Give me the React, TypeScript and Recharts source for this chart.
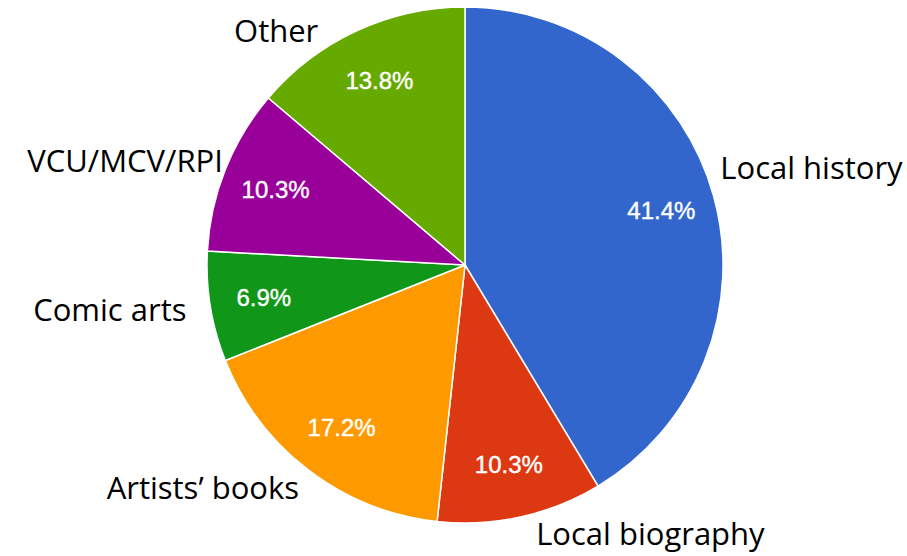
import { PieChart, Pie, Cell } from 'recharts';

// Collection categories, clockwise from 12 o'clock
const categories = ['Local history', 'Local biography', 'Artists\u2019 books', 'Comic arts', 'VCU/MCV/RPI', 'Other'];
const counts = [12, 3, 5, 2, 3, 4];
const sliceColors = ['#3366CC', '#DC3912', '#FF9900', '#109618', '#990099', '#66AA00'];

// small nudges for the outside labels (dx, dy)
const labelNudge: Record<string, [number, number]> = {
  'Local history': [-1, -27],
  'Local biography': [14, 8],
  'Artists\u2019 books': [-5, 10],
  'Comic arts': [-16, 1],
  'VCU/MCV/RPI': [5, -7],
  Other: [-35, 6],
};

const data = categories.map((name, i) => ({ name, value: counts[i] }));

const RAD = Math.PI / 180;

const renderLabel = (props: any) => {
  const { cx, cy, midAngle, outerRadius, percent, name } = props;
  const cos = Math.cos(-midAngle * RAD);
  const sin = Math.sin(-midAngle * RAD);
  const inR = outerRadius * 0.79;
  const outR = outerRadius + 8;
  const [dx, dy] = labelNudge[name] || [0, 0];
  const ox = cx + outR * cos + dx;
  const oy = cy + outR * sin + dy;
  return (
    <g>
      <text
        x={cx + inR * cos}
        y={cy + inR * sin}
        fill="#FFFFFF"
        stroke="#FFFFFF"
        strokeWidth={0.4}
        textAnchor="middle"
        dominantBaseline="central"
        fontFamily="'Liberation Sans', Arial, sans-serif"
        fontSize={24}
      >
        {(percent * 100).toFixed(1) + '%'}
      </text>
      <text
        x={ox}
        y={oy}
        fill="#000000"
        textAnchor={cos >= 0 ? 'start' : 'end'}
        dominantBaseline="central"
        fontFamily="'Open Sans', Lato, sans-serif"
        fontSize={31}
      >
        {name}
      </text>
    </g>
  );
};

export default function App() {
  return (
    <div style={{ width: 907, height: 556, background: '#FFFFFF' }}>
      <style>{`body { margin: 0; }`}</style>
      <PieChart width={907} height={556} margin={{ top: 0, right: 0, bottom: 0, left: 0 }}>
        <Pie
          data={data}
          dataKey="value"
          nameKey="name"
          cx={465}
          cy={265}
          outerRadius={258}
          startAngle={90}
          endAngle={-270}
          stroke="#FFFFFF"
          strokeWidth={1.5}
          label={renderLabel}
          labelLine={false}
          isAnimationActive={false}
        >
          {data.map((d, i) => (
            <Cell key={d.name} fill={sliceColors[i]} />
          ))}
        </Pie>
      </PieChart>
    </div>
  );
}
